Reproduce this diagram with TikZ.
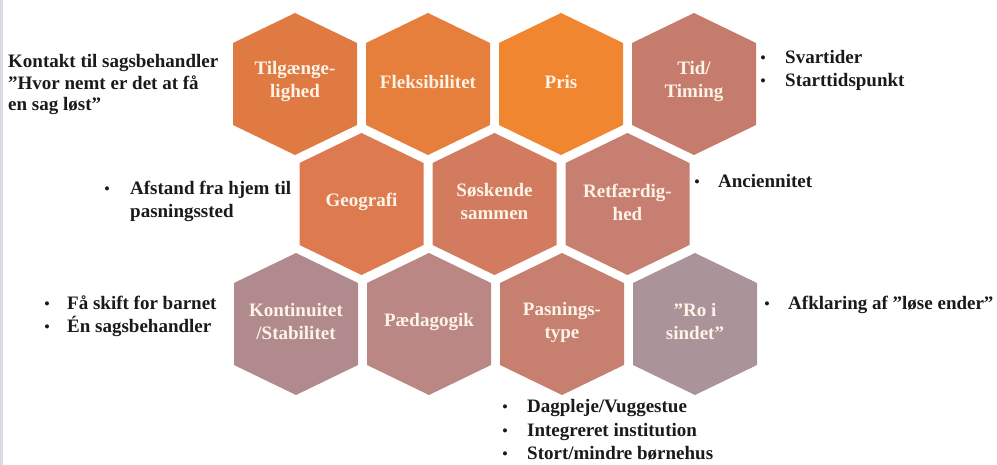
\documentclass[tikz,border=0pt]{standalone}
\usepackage{fontspec}
\setmainfont{Liberation Serif}
\definecolor{cTilg}{HTML}{E07A43}
\definecolor{cFlex}{HTML}{E67E3C}
\definecolor{cPris}{HTML}{F08630}
\definecolor{cTid}{HTML}{C67C6C}
\definecolor{cGeo}{HTML}{DD7A50}
\definecolor{cSosk}{HTML}{D27B5F}
\definecolor{cRetf}{HTML}{C67F71}
\definecolor{cKont}{HTML}{B18A8D}
\definecolor{cPaed}{HTML}{BA8784}
\definecolor{cPasn}{HTML}{C77F6F}
\definecolor{cRo}{HTML}{AA9399}
\definecolor{hextext}{HTML}{FDF3E7}
\definecolor{sidefg}{HTML}{1A1A1A}
\definecolor{edgebar}{HTML}{DADAE2}
\tikzset{
  hexlabel/.style={text=hextext, font=\bfseries\fontsize{19}{23}\selectfont, align=center, inner sep=0pt},
  sidetext/.style={text=sidefg, font=\bfseries\fontsize{19}{23}\selectfont, anchor=base west, inner sep=0pt},
  bulletmark/.style={text=sidefg, font=\fontsize{17}{23}\selectfont, anchor=base, inner sep=0pt},
}
\newcommand{\hexcell}[5]{%
  \fill[#4] (#2,#3) +(0,-71) -- +(62,-41) -- +(62,41) -- +(0,71) -- +(-62,41) -- +(-62,-41) -- cycle;
  \node[hexlabel] (#1) at (#2,#3-2) {#5};
}
\newcommand{\sideline}[4]{\node[sidetext] (#1) at (#2,#3) {#4};}
\newcommand{\sidebullet}[3]{\node[bulletmark] (#1) at (#2,#3) {•};}
\begin{document}
\begin{tikzpicture}[x=1pt,y=-1pt]
  \useasboundingbox (0,0) rectangle (997,465);
  \fill[white] (0,0) rectangle (997,465);
  \fill[edgebar] (0,0) rectangle (3,465);
  % row 1
  \hexcell{tilg}{295}{84}{cTilg}{Tilgænge-\\lighed}
  \hexcell{flex}{428}{84}{cFlex}{Fleksibilitet}
  \hexcell{pris}{561}{84}{cPris}{Pris}
  \hexcell{tid}{694}{84}{cTid}{Tid/\\Timing}
  % row 2
  \hexcell{geo}{361.5}{204}{cGeo}{Geografi}
  \hexcell{sosk}{494.5}{204}{cSosk}{Søskende\\sammen}
  \hexcell{retf}{627.5}{204}{cRetf}{Retfærdig-\\hed}
  % row 3
  \hexcell{kont}{296}{324}{cKont}{Kontinuitet\\/Stabilitet}
  \hexcell{paed}{429}{324}{cPaed}{Pædagogik}
  \hexcell{pasn}{562}{324}{cPasn}{Pasnings-\\type}
  \hexcell{ro}{695}{324}{cRo}{”Ro i\\sindet”}
  % top left text
  \sideline{k1}{8}{68}{Kontakt til sagsbehandler}
  \sideline{k2}{8}{90}{”Hvor nemt er det at få}
  \sideline{k3}{8}{111}{en sag løst”}
  % top right
  \sidebullet{b1}{763}{64}\sideline{s1}{785}{64}{Svartider}
  \sidebullet{b2}{763}{87}\sideline{s2}{785}{87}{Starttidspunkt}
  % middle left
  \sidebullet{b3}{107}{195}\sideline{a1}{130}{195}{Afstand fra hjem til}
  \sideline{a2}{130}{218}{pasningssted}
  % middle right
  \sidebullet{b4}{697}{188}\sideline{an}{718}{188}{Anciennitet}
  % bottom left
  \sidebullet{b5}{47}{310}\sideline{f1}{67}{310}{Få skift for barnet}
  \sidebullet{b6}{47}{333}\sideline{f2}{67}{333}{Én sagsbehandler}
  % bottom right
  \sidebullet{b7}{767}{310}\sideline{af}{788}{310}{Afklaring af ”løse ender”}
  % bottom list
  \sidebullet{b8}{505}{413}\sideline{d1}{527}{413}{Dagpleje/Vuggestue}
  \sidebullet{b9}{505}{436}\sideline{d2}{527}{436}{Integreret institution}
  \sidebullet{b10}{505}{459}\sideline{d3}{527}{459}{Stort/mindre børnehus}
\end{tikzpicture}
\end{document}
